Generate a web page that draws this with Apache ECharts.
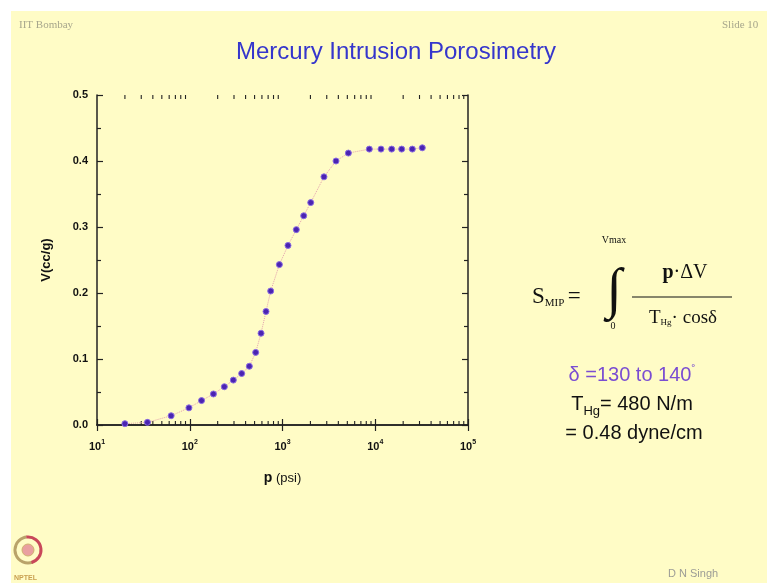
<!DOCTYPE html>
<html lang="en">
<head>
    <meta charset="UTF-8">
    <title>Mercury Intrusion Porosimetry</title>
    <script src="https://cdn.jsdelivr.net/npm/echarts@6/dist/echarts.min.js"></script>
    <style>
        html, body { margin: 0; padding: 0; background: #fff; }
        #main { width: 767px; height: 583px; }
    </style>
</head>
<body>
<div id="main"></div>
<script>
    // pressure (psi) and intruded volume (cc/g)
    var pressure = [20, 35, 63, 98, 134, 180, 236, 295, 363, 439, 514, 587, 664, 746,
        925, 1146, 1409, 1693, 2015, 2800, 3775, 5130, 8630, 11530, 15030, 19270, 25100, 32150];
    var volume = [0.002, 0.004, 0.014, 0.026, 0.037, 0.047, 0.058, 0.068, 0.078, 0.089,
        0.110, 0.139, 0.172, 0.203, 0.243, 0.272, 0.296, 0.317, 0.337, 0.376, 0.400,
        0.412, 0.418, 0.418, 0.418, 0.418, 0.418, 0.420];
    // minor tick positions of the log axis
    var minorTicks = [20, 30, 40, 50, 60, 70, 80, 90,
        200, 300, 400, 500, 600, 700, 800, 900,
        2000, 3000, 4000, 5000, 6000, 7000, 8000, 9000,
        20000, 30000, 40000, 50000, 60000, 70000, 80000, 90000];

    var points = pressure.map(function (p, i) { return [p, volume[i]]; });

    var chart = echarts.init(document.getElementById('main'));

    var tickFont = { fontFamily: 'Liberation Sans, Arial', fontWeight: 'bold', color: '#111' };

    var option = {
        backgroundColor: '#fff',
        animation: false,
        grid: { left: 97, right: 299, top: 95, bottom: 158 },
        xAxis: [{
            type: 'log', logBase: 10, min: 10, max: 100000,
            axisLine: { lineStyle: { color: '#222', width: 1.5 } },
            axisTick: { inside: true, length: 6, lineStyle: { color: '#222', width: 1.2 } },
            splitLine: { show: false },
            axisLabel: {
                margin: 14,
                formatter: function (v) {
                    return '{b|10}{e|' + Math.round(Math.log10(v)) + '}';
                },
                rich: {
                    b: { fontSize: 11, fontFamily: 'Liberation Sans, Arial', fontWeight: 'bold', color: '#111', verticalAlign: 'bottom' },
                    e: { fontSize: 7, fontFamily: 'Liberation Sans, Arial', fontWeight: 'bold', color: '#111', verticalAlign: 'bottom', padding: [0, 0, 6, 0] }
                }
            },
            name: '{b|p} (psi)',
            nameLocation: 'middle',
            nameGap: 46,
            nameTextStyle: {
                fontSize: 13, fontFamily: 'Liberation Sans, Arial', color: '#111',
                rich: { b: { fontSize: 14, fontWeight: 'bold', fontFamily: 'Liberation Sans, Arial', color: '#111' } }
            }
        }, {
            type: 'log', logBase: 10, min: 10, max: 100000, position: 'top',
            axisLine: { lineStyle: { color: '#222', width: 1.5 } },
            axisTick: { inside: true, length: 6, lineStyle: { color: '#222', width: 1.2 } },
            axisLabel: { show: false },
            splitLine: { show: false }
        }],
        yAxis: [{
            type: 'value', min: 0, max: 0.5, interval: 0.1,
            axisLine: { show: true, lineStyle: { color: '#222', width: 1.5 } },
            axisTick: { show: true, inside: true, length: 6, lineStyle: { color: '#222', width: 1.2 } },
            minorTick: { show: true, splitNumber: 2, length: 4, lineStyle: { color: '#222', width: 1.2 } },
            splitLine: { show: false },
            axisLabel: Object.assign({
                fontSize: 11, margin: 9,
                formatter: function (v) { return v.toFixed(1); }
            }, tickFont),
            name: 'V(cc/g)',
            nameLocation: 'middle',
            nameGap: 44,
            nameRotate: 90,
            nameTextStyle: { fontSize: 13, fontFamily: 'Liberation Sans, Arial', fontWeight: 'bold', color: '#111' }
        }, {
            type: 'value', min: 0, max: 0.5, interval: 0.1, position: 'right',
            axisLine: { show: true, lineStyle: { color: '#222', width: 1.5 } },
            axisTick: { show: true, inside: true, length: 6, lineStyle: { color: '#222', width: 1.2 } },
            minorTick: { show: true, splitNumber: 2, length: 4, lineStyle: { color: '#222', width: 1.2 } },
            splitLine: { show: false },
            axisLabel: { show: false }
        }],
        series: [{
            type: 'line',
            data: points,
            symbol: 'circle',
            symbolSize: 6,
            lineStyle: { color: '#e2a0ae', width: 1, type: 'dotted' },
            itemStyle: { color: '#4a24b2', borderColor: '#8a6be2', borderWidth: 1 },
            z: 5
        }, {
            // minor ticks on the bottom and top log axes
            type: 'custom',
            silent: true,
            clip: false,
            data: minorTicks,
            encode: { x: 0 },
            renderItem: function (params, api) {
                var v = api.value(0);
                var b = api.coord([v, 0]);
                var t = api.coord([v, 0.5]);
                var st = { stroke: '#222', lineWidth: 1.1 };
                return {
                    type: 'group',
                    children: [
                        { type: 'line', shape: { x1: b[0], y1: b[1], x2: b[0], y2: b[1] - 4 }, style: st },
                        { type: 'line', shape: { x1: t[0], y1: t[1], x2: t[0], y2: t[1] + 4 }, style: st }
                    ]
                };
            }
        }],
        graphic: [
            // slide background
            { type: 'rect', shape: { x: 11, y: 11, width: 756, height: 572 }, style: { fill: '#fffcc6' }, z: -10 },
            { type: 'text', left: 19, top: 20, style: { text: 'IIT Bombay', font: '11px "Liberation Serif"', fill: '#a7a68c' } },
            { type: 'text', left: 722, top: 20, style: { text: 'Slide 10', font: '11px "Liberation Serif"', fill: '#a7a68c' } },
            { type: 'text', left: 668, top: 568, style: { text: 'D N Singh', font: '11px "Liberation Sans"', fill: '#9c9c96' } },
            {
                type: 'text', x: 396, y: 52,
                style: { text: 'Mercury Intrusion Porosimetry', font: '24px "Liberation Sans"', fill: '#3636cc', align: 'center', verticalAlign: 'middle' }
            },
            // NPTEL logo (simplified)
            { type: 'arc', shape: { cx: 28, cy: 550, r: 13, startAngle: 1.2, endAngle: 4.6 }, style: { stroke: '#b9a36a', lineWidth: 3, fill: null } },
            { type: 'arc', shape: { cx: 28, cy: 550, r: 13, startAngle: -1.7, endAngle: 1.3 }, style: { stroke: '#c9485a', lineWidth: 3, fill: null } },
            { type: 'circle', shape: { cx: 28, cy: 550, r: 6 }, style: { fill: '#e9a0a0', stroke: '#d0b070', lineWidth: 1 } },
            { type: 'text', left: 14, top: 575, style: { text: 'NPTEL', font: 'bold 7px "Liberation Sans"', fill: '#c9a050' } },
            // formula
            {
                type: 'text', x: 532, y: 297,
                style: {
                    text: '{s|S}{sub|MIP} {s|=}',
                    verticalAlign: 'middle',
                    rich: {
                        s: { font: '23px "Liberation Serif"', fill: '#111', verticalAlign: 'bottom' },
                        sub: { font: '11px "Liberation Serif"', fill: '#111', verticalAlign: 'bottom' }
                    }
                }
            },
            { type: 'text', x: 614, y: 292, style: { text: '\u222B', font: '56px "Liberation Serif"', fill: '#111', align: 'center', verticalAlign: 'middle' } },
            { type: 'text', x: 614, y: 240, style: { text: 'Vmax', font: '10px "Liberation Serif"', fill: '#111', align: 'center', verticalAlign: 'middle' } },
            { type: 'text', x: 613, y: 326, style: { text: '0', font: '10px "Liberation Serif"', fill: '#111', align: 'center', verticalAlign: 'middle' } },
            {
                type: 'text', x: 685, y: 273,
                style: {
                    text: '{b|p}{n|\u00B7\u0394V}', align: 'center', verticalAlign: 'middle',
                    rich: {
                        b: { font: 'bold 20px "Liberation Serif"', fill: '#111' },
                        n: { font: '20px "Liberation Serif"', fill: '#111' }
                    }
                }
            },
            { type: 'line', shape: { x1: 632, y1: 297, x2: 732, y2: 297 }, style: { stroke: '#111', lineWidth: 1.2 } },
            {
                type: 'text', x: 683, y: 318,
                style: {
                    text: '{n|T}{sub|Hg}{n|\u00B7 cos\u03B4}', align: 'center', verticalAlign: 'middle',
                    rich: {
                        n: { font: '19px "Liberation Serif"', fill: '#111', verticalAlign: 'bottom' },
                        sub: { font: '9px "Liberation Serif"', fill: '#111', verticalAlign: 'bottom' }
                    }
                }
            },
            {
                type: 'text', x: 632, y: 375,
                style: {
                    text: '{n|\u03B4 =130 to 140}{d|\u02DA}', align: 'center', verticalAlign: 'middle',
                    rich: {
                        n: { font: '20px "Liberation Sans"', fill: '#7a4dd2', verticalAlign: 'bottom' },
                        d: { font: '12px "Liberation Sans"', fill: '#7a4dd2', verticalAlign: 'bottom', padding: [0, 0, 8, 0] }
                    }
                }
            },
            {
                type: 'text', x: 632, y: 404,
                style: {
                    text: '{n|T}{sub|Hg}{n|= 480 N/m}', align: 'center', verticalAlign: 'middle',
                    rich: {
                        n: { font: '20px "Liberation Sans"', fill: '#111', verticalAlign: 'bottom' },
                        sub: { font: '13px "Liberation Sans"', fill: '#111', verticalAlign: 'bottom', padding: [0, 0, -4, 0] }
                    }
                }
            },
            { type: 'text', x: 634, y: 433, style: { text: '= 0.48 dyne/cm', font: '20px "Liberation Sans"', fill: '#111', align: 'center', verticalAlign: 'middle' } }
        ]
    };

    chart.setOption(option);
</script>
</body>
</html>
